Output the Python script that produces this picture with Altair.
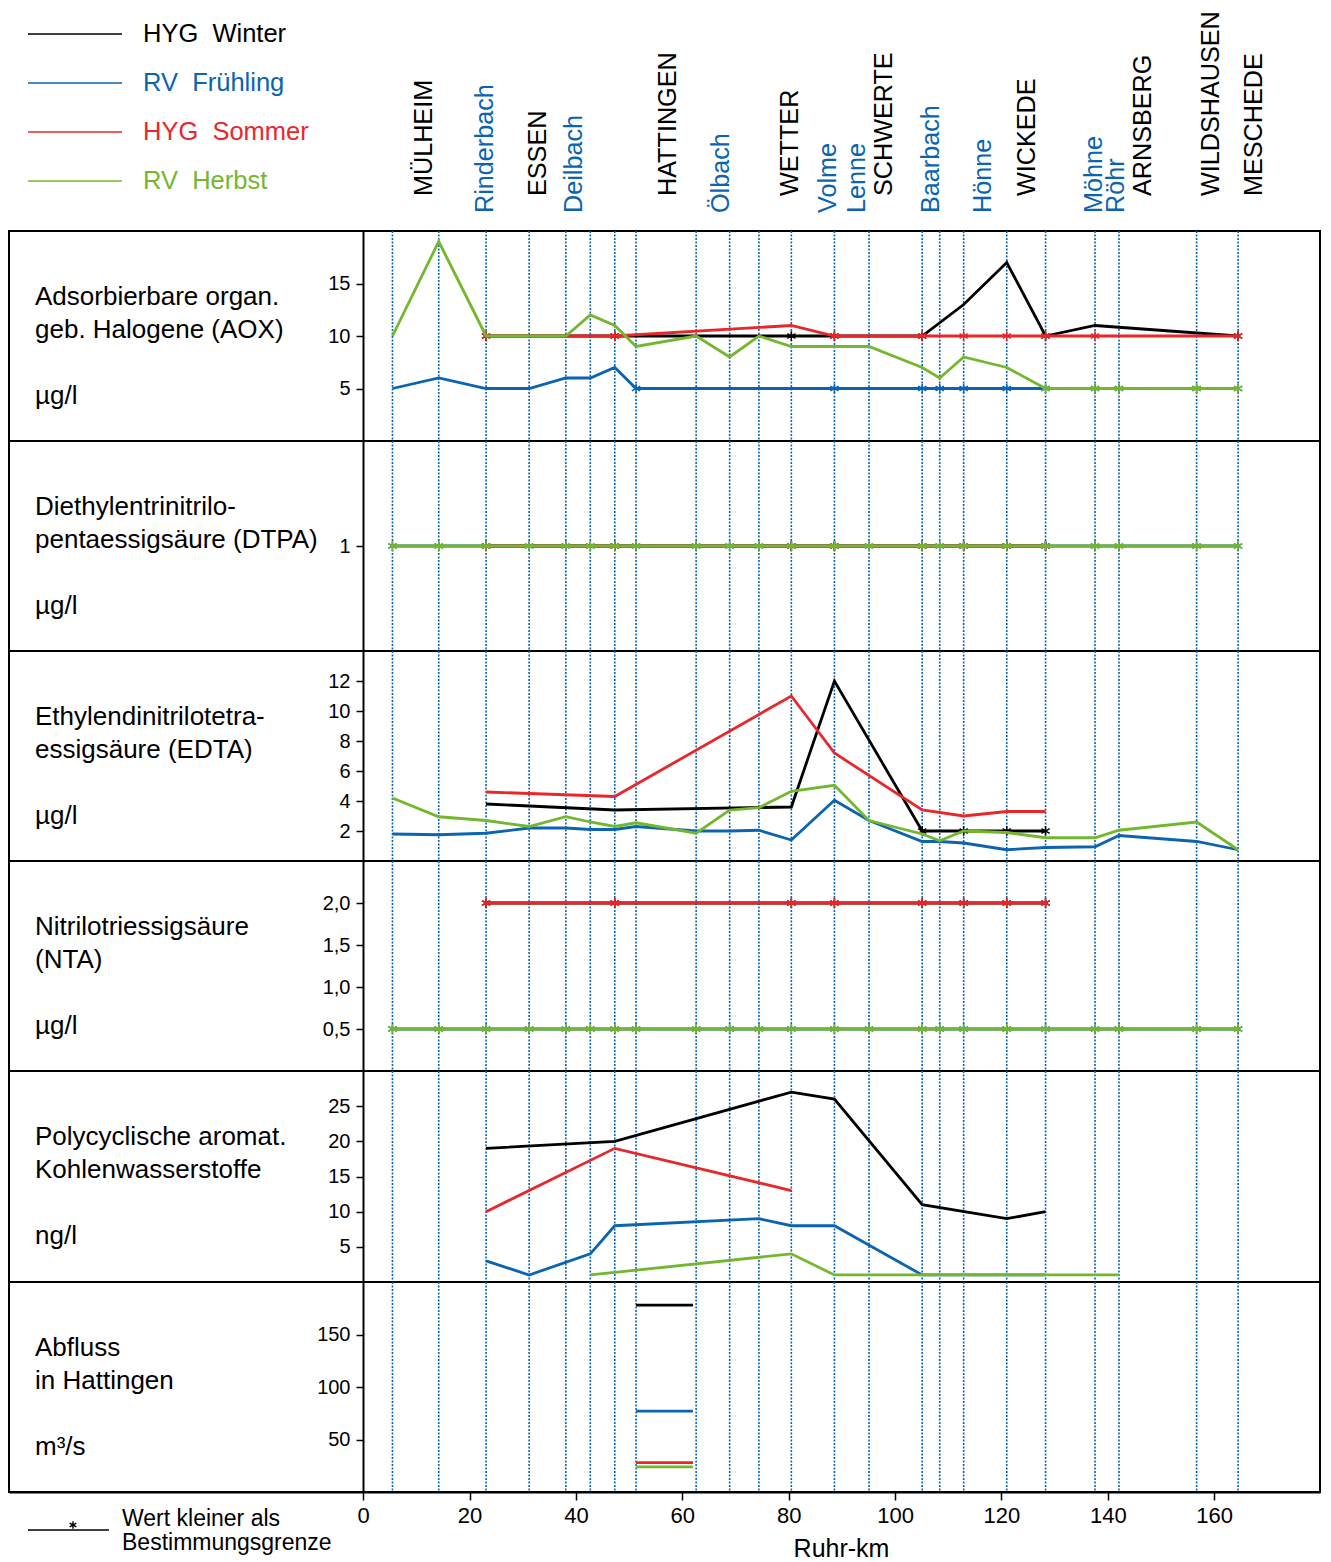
import altair as alt
import pandas as pd

N = None

SERIES = ["HYG  Winter", "RV  Frühling", "HYG  Sommer", "RV  Herbst"]
COLORS = ["#000000", "#0a64b0", "#e8272b", "#74b72e"]
BLUE = "#0a64b0"

# Ruhr-km of the measuring points (dotted lines)
STATION_KM = [5.5, 14.2, 23.1, 31.2, 38.1, 42.7, 47.3, 51.3, 62.6, 68.9, 74.4, 80.5,
              88.6, 95.1, 105.1, 108.4, 112.9, 121.0, 128.3, 137.6, 142.1, 156.7, 164.5]

TOWN_NAMES = ["MÜLHEIM", "ESSEN", "HATTINGEN", "WETTER", "SCHWERTE", "WICKEDE",
              "ARNSBERG", "WILDSHAUSEN", "MESCHEDE"]
TOWN_LABEL_KM = [11.5, 32.9, 57.3, 80.3, 98.0, 124.8, 146.6, 159.4, 167.5]
TRIB_NAMES = ["Rinderbach", "Deilbach", "Ölbach", "Volme", "Lenne", "Baarbach",
              "Hönne", "Möhne", "Röhr"]
TRIB_LABEL_KM = [22.9, 39.7, 67.3, 87.4, 92.9, 106.8, 116.6, 137.4, 141.6]

# "<x" = Wert kleiner als Bestimmungsgrenze
AOX_WINTER = [N, N, "<10", N, N, N, "<10", N, N, N, N, "<10", "<10", N, "<10", N, 13, 17, "<10", 11, N, N, "<10"]
AOX_SPRING = [5, 6, 5, 5, 6, 6, 7, "<5", N, N, N, N, "<5", N, "<5", "<5", "<5", "<5", "<5", "<5", "<5", "<5", "<5"]
AOX_SUMMER = [N, N, "<10", N, N, N, "<10", N, N, N, N, 11, "<10", N, "<10", N, "<10", "<10", "<10", "<10", N, N, "<10"]
AOX_AUTUMN = [10, 19, 10, 10, 10, 12, 11, 9, 10, 8, 10, 9, 9, 9, 7, 6, 8, 7, "<5", "<5", "<5", "<5", "<5"]

DTPA_WINTER = [N, N, "<1", N, N, N, "<1", N, N, N, N, "<1", "<1", N, "<1", N, "<1", "<1", "<1", N, N, N, N]
DTPA_SPRING = ["<1", "<1", "<1", "<1", "<1", "<1", "<1", "<1", "<1", "<1", "<1", "<1",
               "<1", "<1", "<1", "<1", "<1", "<1", "<1", "<1", "<1", "<1", "<1"]
DTPA_SUMMER = [N, N, "<1", N, N, N, "<1", N, N, N, N, "<1", "<1", N, "<1", N, "<1", "<1", "<1", N, N, N, N]
DTPA_AUTUMN = ["<1", "<1", "<1", "<1", "<1", "<1", "<1", "<1", "<1", "<1", "<1", "<1",
               "<1", "<1", "<1", "<1", "<1", "<1", "<1", "<1", "<1", "<1", "<1"]

EDTA_WINTER = [N, N, 3.8, N, N, N, 3.4, N, N, N, N, 3.6, 12, N, "<2", N, "<2", "<2", "<2", N, N, N, N]
EDTA_SPRING = [1.8, 1.75, 1.85, 2.2, 2.2, 2.1, 2.1, 2.3, 2.0, 2.0, 2.05, 1.4, 4.05, 2.7,
               1.3, 1.3, 1.2, 0.75, 0.9, 0.95, 1.7, 1.3, 0.75]
EDTA_SUMMER = [N, N, 4.6, N, N, N, 4.3, N, N, N, N, 11, 7.2, N, 3.4, N, 3.0, 3.3, 3.3, N, N, N, N]
EDTA_AUTUMN = [4.2, 2.95, 2.7, 2.3, 2.95, 2.6, 2.3, 2.55, 1.85, 3.4, 3.55, 4.65, 5.05, 2.7,
               1.8, 1.35, 2.0, 1.9, 1.55, 1.55, 2.05, 2.6, 0.75]

NTA_WINTER = [N, N, "<2", N, N, N, "<2", N, N, N, N, "<2", "<2", N, "<2", N, "<2", "<2", "<2", N, N, N, N]
NTA_SPRING = ["<0.5", "<0.5", "<0.5", "<0.5", "<0.5", "<0.5", "<0.5", "<0.5", "<0.5", "<0.5", "<0.5", "<0.5",
              "<0.5", "<0.5", "<0.5", "<0.5", "<0.5", "<0.5", "<0.5", "<0.5", "<0.5", "<0.5", "<0.5"]
NTA_SUMMER = [N, N, "<2", N, N, N, "<2", N, N, N, N, "<2", "<2", N, "<2", N, "<2", "<2", "<2", N, N, N, N]
NTA_AUTUMN = ["<0.5", "<0.5", "<0.5", "<0.5", "<0.5", "<0.5", "<0.5", "<0.5", "<0.5", "<0.5", "<0.5", "<0.5",
              "<0.5", "<0.5", "<0.5", "<0.5", "<0.5", "<0.5", "<0.5", "<0.5", "<0.5", "<0.5", "<0.5"]

PAK_WINTER = [N, N, 19, N, N, N, 20, N, N, N, N, 27, 26, N, 11, N, N, 9, 10, N, N, N, N]
PAK_SPRING = [N, N, 3, 1, N, 4, 8, N, N, N, 9, 8, 8, N, 1, 1, 1, 1, 1, N, N, N, N]
PAK_SUMMER = [N, N, 10, N, N, N, 19, N, N, N, N, 13, N, N, N, N, N, N, N, N, N, N, N]
PAK_AUTUMN = [N, N, N, N, N, 1, N, N, N, N, N, 4, 1, 1, 1, 1, 1, 1, 1, 1, 1, N, N]

# Abfluss in Hattingen (m³/s) per campaign
Q_VALUES = [178, 77, 28, 24]
Q_KM_FROM = 51.3
Q_KM_TO = 62.0

PANEL_LINE1 = ["Adsorbierbare organ.", "Diethylentrinitrilo-", "Ethylendinitrilotetra-",
               "Nitrilotriessigsäure", "Polycyclische aromat.", "Abfluss"]
PANEL_LINE2 = ["geb. Halogene (AOX)", "pentaessigsäure (DTPA)", "essigsäure (EDTA)",
               "(NTA)", "Kohlenwasserstoffe", "in Hattingen"]
PANEL_UNITS = ["µg/l", "µg/l", "µg/l", "µg/l", "ng/l", "m³/s"]
Y_MAX = [20, 2, 14, 2.5, 30, 200]
Y_TICKS = [[5, 10, 15], [1], [2, 4, 6, 8, 10, 12], [0.5, 1.0, 1.5, 2.0],
           [5, 10, 15, 20, 25], [50, 100, 150]]
X_TICKS = [0, 20, 40, 60, 80, 100, 120, 140, 160]

FONT = "Liberation Sans"
W = 1311
X_DOMAIN = [-66.6, 179.9]
STAR = "M0,-1L0,1M-0.87,-0.5L0.87,0.5M-0.87,0.5L0.87,-0.5"
LW = 2.8


def to_rows(values, series):
    rows = []
    for km, v in zip(STATION_KM, values):
        if v is None:
            continue
        below = isinstance(v, str)
        val = float(v.lstrip("<")) if below else float(v)
        rows.append({"series": series, "km": km, "value": val, "below": below})
    return pd.DataFrame(rows)


def xenc(axis, field="km:Q"):
    return alt.X(field, scale=alt.Scale(domain=X_DOMAIN, nice=False, zero=False), axis=axis)


def panel(i, series_lists, height, xaxis=None, label_expr=None, footer=False):
    axis_kw = dict(values=Y_TICKS[i], orient="left", offset=-354, title=None, grid=False,
                   tickSize=7, tickWidth=1.5, tickColor="black", domainColor="black",
                   domainWidth=2, labelFontSize=20, labelPadding=6, labelColor="black",
                   labelFont=FONT)
    if label_expr:
        axis_kw["labelExpr"] = label_expr
    yaxis = alt.Axis(**axis_kw)
    yscale = alt.Scale(domain=[0, Y_MAX[i]], nice=False, zero=True)

    layers = [
        alt.Chart(pd.DataFrame({"km": STATION_KM}))
        .mark_rule(color=BLUE, strokeWidth=1.6, strokeDash=[2, 1.5])
        .encode(x=xenc(xaxis))
    ]
    if series_lists is not None:
        for s, vals, col in zip(SERIES, series_lists, COLORS):
            df = to_rows(vals, s)
            if df.empty:
                continue
            layers.append(
                alt.Chart(df).mark_line(color=col, strokeWidth=LW)
                .encode(x=xenc(xaxis), y=alt.Y("value:Q", scale=yscale, axis=yaxis))
            )
            stars = df[df["below"]]
            if len(stars):
                layers.append(
                    alt.Chart(stars).mark_point(shape=STAR, filled=False, color=col,
                                                strokeWidth=1.5, size=90, opacity=1)
                    .encode(x=xenc(xaxis), y=alt.Y("value:Q", scale=yscale, axis=yaxis))
                )
    else:
        qdf = pd.DataFrame({"series": SERIES, "value": Q_VALUES,
                            "km": [Q_KM_FROM] * 4, "km2": [Q_KM_TO] * 4})
        layers.append(
            alt.Chart(qdf).mark_rule(strokeWidth=LW)
            .encode(x=xenc(xaxis), x2="km2:Q",
                    y=alt.Y("value:Q", scale=yscale, axis=yaxis),
                    color=alt.Color("series:N", scale=alt.Scale(domain=SERIES, range=COLORS),
                                    legend=None))
        )

    for txt, yy in [(PANEL_LINE1[i], 66), (PANEL_LINE2[i], 99), (PANEL_UNITS[i], 165)]:
        layers.append(
            alt.Chart(pd.DataFrame({"t": [txt]}))
            .mark_text(align="left", baseline="middle", fontSize=26, font=FONT, color="black")
            .encode(x=alt.value(26), y=alt.value(yy), text="t:N")
        )

    if footer:
        one = pd.DataFrame({"a": [0]})
        layers.append(alt.Chart(one).mark_rule(color="black", strokeWidth=1.5)
                      .encode(x=alt.value(19), x2=alt.value(100), y=alt.value(248)))
        layers.append(alt.Chart(one).mark_point(shape=STAR, filled=False, color="black",
                                                strokeWidth=1.4, size=60, opacity=1)
                      .encode(x=alt.value(64), y=alt.value(243)))
        for txt, yy in [("Wert kleiner als", 237), ("Bestimmungsgrenze", 261)]:
            layers.append(
                alt.Chart(pd.DataFrame({"t": [txt]}))
                .mark_text(align="left", baseline="middle", fontSize=23, font=FONT, color="black")
                .encode(x=alt.value(113), y=alt.value(yy), text="t:N")
            )

    return alt.layer(*layers).properties(width=W, height=height)


# ---------- header: legend + station names ----------
legend_df = pd.DataFrame({"series": SERIES,
                          "label": [s.replace("  ", "\u00a0\u00a0") for s in SERIES]})
leg_y = alt.Y("series:N", scale=alt.Scale(type="point", domain=SERIES, range=[25, 172], padding=0),
              axis=None)
leg_c = alt.Color("series:N", scale=alt.Scale(domain=SERIES, range=COLORS), legend=None)

header = alt.layer(
    alt.Chart(legend_df).mark_rule(strokeWidth=1.5)
    .encode(x=alt.value(19), x2=alt.value(113), y=leg_y, color=leg_c),
    alt.Chart(legend_df).mark_text(align="left", baseline="middle", fontSize=25.5, font=FONT)
    .encode(x=alt.value(134), y=leg_y, color=leg_c, text="label:N"),
    alt.Chart(pd.DataFrame({"name": TOWN_NAMES, "km": TOWN_LABEL_KM}))
    .mark_text(angle=270, align="left", baseline="middle", fontSize=25.2, font=FONT, color="black")
    .encode(x=xenc(None), y=alt.value(187), text="name:N"),
    alt.Chart(pd.DataFrame({"name": TRIB_NAMES, "km": TRIB_LABEL_KM}))
    .mark_text(angle=270, align="left", baseline="middle", fontSize=25.2, font=FONT, color=BLUE)
    .encode(x=xenc(None), y=alt.value(204), text="name:N"),
).properties(width=W, height=222, view=alt.ViewBackground(stroke="transparent"))

xaxis_bottom = alt.Axis(values=X_TICKS, orient="bottom", title="Ruhr-km", titleX=832, titleY=64,
                        titleBaseline="alphabetic", titleFontSize=25, titleFontWeight="normal",
                        titleColor="black", titleFont=FONT, labelFontSize=22, labelColor="black",
                        labelFont=FONT, tickSize=8, tickColor="black", tickWidth=1.5,
                        domainColor="black", domainWidth=2, labelPadding=5, grid=False,
                        labelFlush=False)

p1 = panel(0, [AOX_WINTER, AOX_SPRING, AOX_SUMMER, AOX_AUTUMN], 210)
p2 = panel(1, [DTPA_WINTER, DTPA_SPRING, DTPA_SUMMER, DTPA_AUTUMN], 210)
p3 = panel(2, [EDTA_WINTER, EDTA_SPRING, EDTA_SUMMER, EDTA_AUTUMN], 210)
p4 = panel(3, [NTA_WINTER, NTA_SPRING, NTA_SUMMER, NTA_AUTUMN], 210,
           label_expr="replace(format(datum.value, '.1f'), '.', ',')")
p5 = panel(4, [PAK_WINTER, PAK_SPRING, PAK_SUMMER, PAK_AUTUMN], 211)
p6 = panel(5, None, 210, xaxis=xaxis_bottom, footer=True)

chart = alt.vconcat(header, p1, p2, p3, p4, p5, p6, spacing=0, bounds="flush", padding=0)
chart = chart.resolve_scale(x="independent", y="independent", color="independent")
chart = chart.configure(font=FONT).configure_view(stroke="black", strokeWidth=2)

chart.save("out.html", embed_options={"renderer": "svg", "actions": False})
